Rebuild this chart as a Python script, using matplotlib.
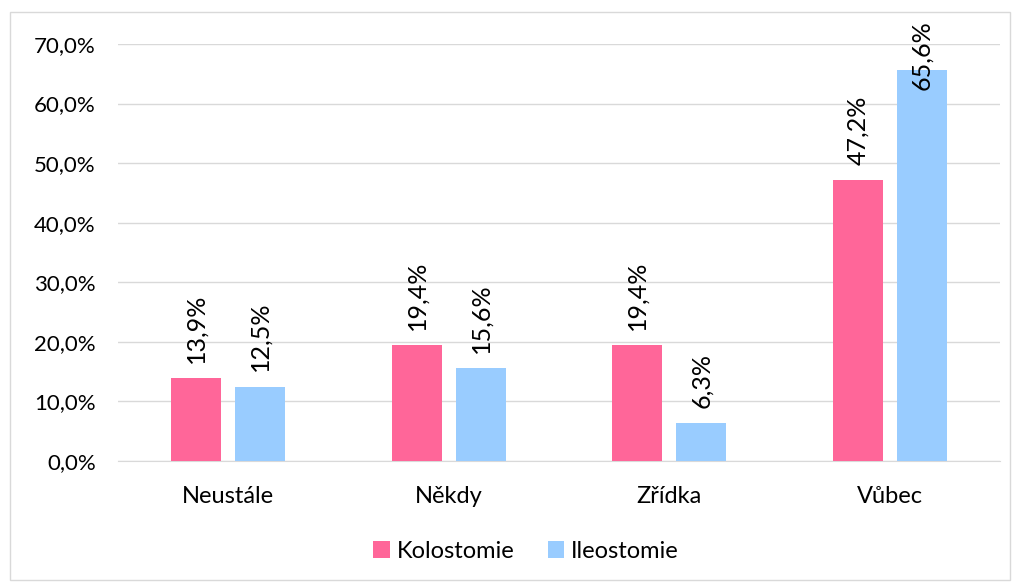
import numpy as np
import matplotlib.pyplot as plt
from matplotlib.patches import Rectangle

categories = ['Neustále', 'Někdy', 'Zřídka', 'Vůbec']
kolostomie = [13.9, 19.4, 19.4, 47.2]
ileostomie = [12.5, 15.6, 6.3, 65.6]
yticks = [0, 10, 20, 30, 40, 50, 60, 70]

plt.rcParams['font.family'] = ['Lato', 'DejaVu Sans']

W, H = 1017, 583
fig = plt.figure(figsize=(W/100, H/100), dpi=100)
fig.patches.append(Rectangle((10/W, 1 - 580/H), 1000/W, 568/H, transform=fig.transFigure,
                             fill=False, edgecolor='#d9d9d9', linewidth=1))
ax = fig.add_axes([118/W, (H-461)/H, 882/W, (461-44)/H])

x = np.arange(len(categories))
w = 0.227
off = 0.145
b1 = ax.bar(x - off, kolostomie, w, color='#ff6699', label='Kolostomie', zorder=3)
b2 = ax.bar(x + off, ileostomie, w, color='#99ccff', label='Ileostomie', zorder=3)

ax.set_xlim(-0.5, 3.5)
ax.set_ylim(0, 70)

labels = []
for bars, vals in ((b1, kolostomie), (b2, ileostomie)):
    for r, v in zip(bars, vals):
        t = ax.annotate(('%.1f%%' % v).replace('.', ','),
                        (r.get_x() + r.get_width()/2, v), xytext=(0, 11),
                        textcoords='offset points', rotation=90, ha='center',
                        va='bottom', fontsize=18, color='#000000', zorder=4,
                        annotation_clip=False)
        labels.append(t)

ax.set_yticks(yticks)
ax.set_yticklabels([('%.1f%%' % t).replace('.', ',') for t in yticks], fontsize=16)
ax.set_xticks(x)
ax.set_xticklabels(categories, fontsize=17)
ax.tick_params(axis='y', length=0, pad=16)
ax.tick_params(axis='x', length=0, pad=18)
ax.grid(axis='y', color='#d9d9d9', linewidth=1, zorder=0)
for s in ['top', 'right', 'left']:
    ax.spines[s].set_visible(False)
ax.spines['bottom'].set_color('#d9d9d9')

fig.legend(loc='center', bbox_to_anchor=(526/W, 1 - 551/H), ncol=2, frameon=False,
           fontsize=17, handlelength=0.7, handleheight=0.7, handletextpad=0.3, columnspacing=1.4)

# keep labels inside the chart area, like Excel does
fig.canvas.draw()
r = fig.canvas.get_renderer()
for t in labels:
    bb = t.get_window_extent(r)
    limit = H - 20
    if bb.y1 > limit:
        dx, dy = t.xyann
        t.xyann = (dx, dy - (bb.y1 - limit) * 72 / fig.dpi)

fig.savefig('out.png', dpi=100)
